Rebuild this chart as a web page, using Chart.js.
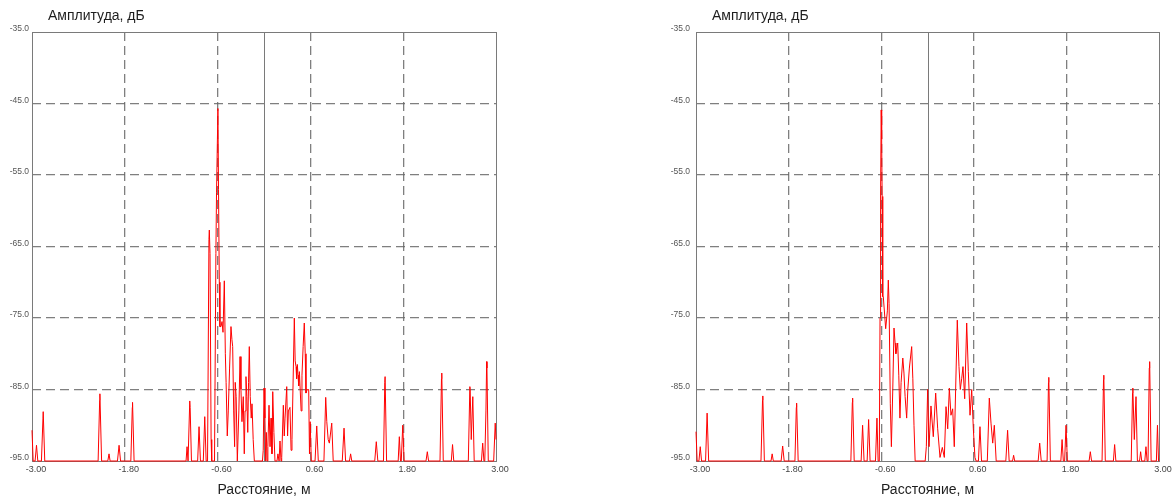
<!DOCTYPE html>
<html lang="ru">
<head>
<meta charset="utf-8">
<title>Амплитуда / Расстояние</title>
<script src="https://cdn.jsdelivr.net/npm/chart.js@4.4.1/dist/chart.umd.min.js"></script>
<style>
  html, body { margin: 0; padding: 0; background: #ffffff; }
  body { width: 1174px; height: 500px; position: relative; overflow: hidden; }
  .panel { position: absolute; top: 0; }
  #panelA { left: 0; }
  #panelB { left: 664px; }
</style>
</head>
<body>
<div class="panel" id="panelA"><canvas id="chartA" width="520" height="500"></canvas></div>
<div class="panel" id="panelB"><canvas id="chartB" width="510" height="500"></canvas></div>
<script>
// Axis ticks
const xTicks = [-3.0, -1.8, -0.6, 0.6, 1.8, 3.0];
const yTicks = [-95, -85, -75, -65, -55, -45, -35];

// Axis titles
const yTitle = 'Амплитуда, дБ';
const xTitle = 'Расстояние, м';

// Trace A: distance (m) and amplitude (dB)
const distanceA = [
  -3.000, -2.985,
  -2.960, -2.942, -2.925,
  -2.878, -2.858, -2.855, -2.835,
  -2.145, -2.125, -2.122, -2.100,
  -2.020, -2.004, -1.990,
  -1.895, -1.874, -1.855,
  -1.722, -1.703, -1.700, -1.680,
  -1.008, -0.995, -0.982,
  -0.978, -0.960, -0.955, -0.938,
  -0.858, -0.840, -0.822,
  -0.785, -0.766, -0.748,
  -0.730, -0.712, -0.707, -0.698, -0.684, -0.676,
  -0.640, -0.622, -0.614, -0.596, -0.588, -0.578, -0.570, -0.556, -0.543, -0.530,
  -0.513, -0.500, -0.490, -0.475, -0.462, -0.445, -0.427, -0.415, -0.405, -0.392,
  -0.380, -0.372, -0.360, -0.345, -0.325, -0.310, -0.298, -0.285, -0.268, -0.255,
  -0.245, -0.233, -0.222, -0.210, -0.200, -0.190, -0.178, -0.165, -0.155, -0.140,
  -0.125, -0.020, -0.010, 0.000, 0.012, 0.022, 0.030, 0.040, 0.050, 0.065, 0.078,
  0.091, 0.103, 0.113, 0.128, 0.142, 0.168, 0.180, 0.195, 0.207, 0.220, 0.229,
  0.250, 0.262, 0.272, 0.294, 0.305, 0.315, 0.336, 0.350, 0.362, 0.392, 0.403,
  0.414, 0.422, 0.431, 0.440, 0.449, 0.458, 0.466, 0.480, 0.491, 0.506, 0.521,
  0.533, 0.543, 0.560, 0.578, 0.588, 0.597, 0.612,
  0.660, 0.682, 0.702,
  0.775, 0.798, 0.812, 0.830, 0.845, 0.876, 0.895,
  1.012, 1.035, 1.055,
  1.105, 1.120, 1.135,
  1.432, 1.452, 1.472,
  1.545, 1.562, 1.566, 1.585,
  1.735, 1.750, 1.765,
  1.775, 1.794, 1.812,
  2.095, 2.112, 2.128,
  2.276, 2.295, 2.299, 2.318,
  2.422, 2.438, 2.454,
  2.642, 2.662, 2.666, 2.680, 2.700, 2.718,
  2.812, 2.828, 2.844,
  2.855, 2.870, 2.879, 2.883, 2.900,
  2.970, 2.990, 3.000
];
const amplitudeA = [
  -90.7, -95,
  -95, -92.8, -95,
  -95, -89.0, -88.1, -95,
  -95, -86.5, -85.6, -95,
  -95, -94.0, -95,
  -95, -92.8, -95,
  -95, -87.5, -86.8, -95,
  -95, -93.0, -95,
  -95, -86.6, -87.5, -95,
  -95, -90.2, -95,
  -95, -88.8, -95,
  -95, -64.0, -62.7, -66.0, -92.0, -95,
  -95, -66.0, -57.5, -45.7, -57.0, -70.0, -76.2, -76.2, -75.5, -77.0,
  -69.8, -80.0, -84.0, -91.5, -88.0, -82.0, -76.2, -78.0, -79.0, -88.0,
  -93.0, -84.0, -86.0, -95, -88.0, -80.4, -85.0, -89.5, -86.0, -94.0,
  -88.0, -83.2, -86.0, -91.0, -84.0, -79.0, -86.0, -89.0, -87.0, -92.0,
  -95, -95, -93.5, -84.8, -89.0, -95, -91.0, -95, -93.0, -87.2, -93.0,
  -89.0, -94.0, -85.3, -91.0, -95, -95, -94.0, -95, -92.2, -95, -94.5,
  -87.2, -91.5, -89.0, -84.6, -91.5, -88.0, -87.5, -93.5, -92.0, -75.0, -81.0,
  -81.8, -83.5, -81.5, -83.0, -84.5, -82.5, -84.5, -88.0, -83.0, -79.0, -75.7,
  -80.0, -85.5, -85.0, -85.0, -94.0, -89.5, -95,
  -95, -90.1, -95,
  -95, -86.1, -89.5, -92.0, -92.5, -89.7, -95,
  -95, -90.4, -95,
  -95, -94.0, -95,
  -95, -92.3, -95,
  -95, -84.0, -83.2, -95,
  -95, -91.6, -95,
  -95, -90.0, -95,
  -95, -93.7, -95,
  -95, -83.5, -82.7, -95,
  -95, -92.7, -95,
  -95, -84.6, -85.0, -92.0, -86.0, -95,
  -95, -92.5, -95,
  -95, -88.0, -81.1, -82.0, -95,
  -95, -89.7, -92.0
];

// Trace B: distance (m) and amplitude (dB)
const distanceB = [
  -3.000, -2.985,
  -2.962, -2.945, -2.928,
  -2.876, -2.856, -2.836,
  -2.158, -2.138, -2.134, -2.114,
  -2.028, -2.013, -1.998,
  -1.897, -1.877, -1.857,
  -1.718, -1.700, -1.696, -1.676,
  -0.993, -0.974, -0.970, -0.950,
  -0.860, -0.841, -0.822,
  -0.782, -0.763, -0.744,
  -0.674, -0.655, -0.640,
  -0.625, -0.615, -0.608, -0.600, -0.594, -0.588, -0.580, -0.573, -0.542, -0.520,
  -0.508, -0.498, -0.482, -0.468, -0.450, -0.434, -0.420, -0.410, -0.386, -0.372,
  -0.357, -0.342, -0.320, -0.305, -0.290, -0.270, -0.255, -0.235, -0.205, -0.190,
  -0.175, -0.160, -0.030, -0.015, 0.002, 0.020, 0.045, 0.075, 0.106, 0.132, 0.162,
  0.192, 0.218, 0.240, 0.262, 0.283, 0.304, 0.326, 0.347, 0.386, 0.408, 0.425,
  0.443, 0.460, 0.482, 0.508, 0.529, 0.551, 0.573, 0.594, 0.615, 0.630,
  0.660, 0.680, 0.700,
  0.775, 0.801, 0.823, 0.845, 0.866, 0.890,
  1.015, 1.038, 1.058,
  1.102, 1.116, 1.130,
  1.434, 1.454, 1.474,
  1.550, 1.568, 1.572, 1.592,
  1.728, 1.744, 1.760,
  1.777, 1.795, 1.813,
  2.094, 2.110, 2.126,
  2.262, 2.281, 2.285, 2.304,
  2.409, 2.425, 2.441,
  2.640, 2.657, 2.661, 2.680, 2.702, 2.720,
  2.748, 2.762, 2.776,
  2.816, 2.831, 2.846,
  2.858, 2.874, 2.879, 2.898,
  2.966, 2.980, 2.994, 3.000
];
const amplitudeB = [
  -90.9, -95,
  -95, -93.0, -95,
  -95, -88.3, -95,
  -95, -86.5, -85.9, -95,
  -95, -94.0, -95,
  -95, -92.9, -95,
  -95, -87.5, -86.9, -95,
  -95, -86.8, -86.2, -95,
  -95, -90.0, -95,
  -95, -89.2, -95,
  -95, -89.0, -95,
  -95, -75.0, -57.8, -45.9, -50.0, -58.0, -72.0, -72.0, -76.5, -74.0,
  -69.7, -73.0, -87.0, -93.0, -85.0, -76.4, -78.5, -80.0, -78.5, -83.0,
  -89.0, -84.0, -80.6, -82.7, -86.0, -89.0, -85.0, -82.0, -79.0, -83.5,
  -90.0, -95, -95, -93.0, -85.0, -93.0, -87.3, -91.6, -85.5, -90.5, -94.5,
  -93.1, -94.5, -87.4, -90.5, -84.8, -88.6, -87.7, -93.0, -75.3, -81.8, -85.0,
  -83.5, -81.8, -86.3, -75.7, -82.5, -88.6, -85.0, -90.5, -94.5, -95,
  -95, -90.2, -95,
  -95, -86.2, -89.7, -92.5, -90.0, -95,
  -95, -90.7, -95,
  -95, -94.2, -95,
  -95, -92.5, -95,
  -95, -84.0, -83.3, -95,
  -95, -92.0, -95,
  -95, -90.0, -95,
  -95, -93.7, -95,
  -95, -83.6, -83.0, -95,
  -95, -92.7, -95,
  -95, -85.5, -84.8, -92.0, -86.0, -95,
  -95, -93.7, -95,
  -95, -93.0, -95,
  -95, -82.0, -81.1, -95,
  -95, -90.0, -95, -95
];

const FONT = '"Liberation Sans", Arial, sans-serif';
const GRID_COLOR = 'rgba(105,105,105,0.85)';
const FRAME_COLOR = '#7a7a7a';

// Frame, zero line and axis titles
const framePlugin = {
  id: 'frame',
  beforeDatasetsDraw(chart) {
    const { ctx, chartArea: a, scales } = chart;
    ctx.save();
    ctx.strokeStyle = FRAME_COLOR;
    ctx.lineWidth = 1;
    ctx.setLineDash([]);
    const x0 = Math.round(scales.x.getPixelForValue(0)) + 0.5;
    ctx.beginPath();
    ctx.moveTo(x0, a.top);
    ctx.lineTo(x0, a.bottom);
    ctx.stroke();
    ctx.strokeRect(Math.round(a.left) + 0.5, Math.round(a.top) + 0.5,
                   Math.round(a.right - a.left), Math.round(a.bottom - a.top));
    ctx.restore();
  },
  afterDraw(chart) {
    const { ctx, chartArea: a } = chart;
    ctx.save();
    ctx.fillStyle = '#1e1e1e';
    ctx.font = '14px ' + FONT;
    ctx.textBaseline = 'middle';
    ctx.textAlign = 'left';
    ctx.fillText(yTitle, a.left + 16, 16);
    ctx.textAlign = 'center';
    ctx.fillText(xTitle, (a.left + a.right) / 2, 490);
    ctx.restore();
  }
};

function makeChart(id, xs, ys, rightPad, yLabelPad) {
  const points = xs.map((x, i) => ({ x: x, y: ys[i] }));
  return new Chart(document.getElementById(id), {
    type: 'line',
    data: {
      datasets: [{
        data: points,
        borderColor: '#ff0000',
        borderWidth: 1,
        pointRadius: 0,
        fill: false,
        tension: 0,
        clip: { left: 1, right: 1, top: 1, bottom: 2 }
      }]
    },
    options: {
      responsive: false,
      animation: false,
      events: [],
      layout: { padding: { left: 0, right: rightPad, top: 32, bottom: 0 } },
      plugins: { legend: { display: false }, tooltip: { enabled: false }, title: { display: false } },
      scales: {
        x: {
          type: 'linear',
          min: -3,
          max: 3,
          afterBuildTicks: s => { s.ticks = xTicks.map(v => ({ value: v })); },
          afterFit: s => { s.height = 39; },
          ticks: {
            callback: v => Number(v).toFixed(2),
            font: { family: FONT, size: 9 },
            color: '#444',
            padding: 3,
            labelOffset: 4,
            maxRotation: 0,
            autoSkip: false
          },
          grid: {
            color: c => (c.tick && (c.tick.value === -3 || c.tick.value === 3)) ? 'rgba(0,0,0,0)' : GRID_COLOR,
            lineWidth: 1.3,
            drawTicks: false
          },
          border: { display: false, dash: [9, 5] }
        },
        y: {
          type: 'linear',
          min: -95,
          max: -35,
          afterBuildTicks: s => { s.ticks = yTicks.map(v => ({ value: v })); },
          afterFit: s => { s.width = 32; },
          ticks: {
            callback: v => Number(v).toFixed(1),
            font: { family: FONT, size: 8.5 },
            color: '#555',
            padding: yLabelPad,
            labelOffset: -3,
            autoSkip: false
          },
          grid: {
            color: c => (c.tick && (c.tick.value === -95 || c.tick.value === -35)) ? 'rgba(0,0,0,0)' : GRID_COLOR,
            lineWidth: 1.3,
            drawTicks: false
          },
          border: { display: false, dash: [9, 5] }
        }
      }
    },
    plugins: [framePlugin]
  });
}

makeChart('chartA', distanceA, amplitudeA, 24, 3);
makeChart('chartB', distanceB, amplitudeB, 15, 6);
</script>
</body>
</html>
